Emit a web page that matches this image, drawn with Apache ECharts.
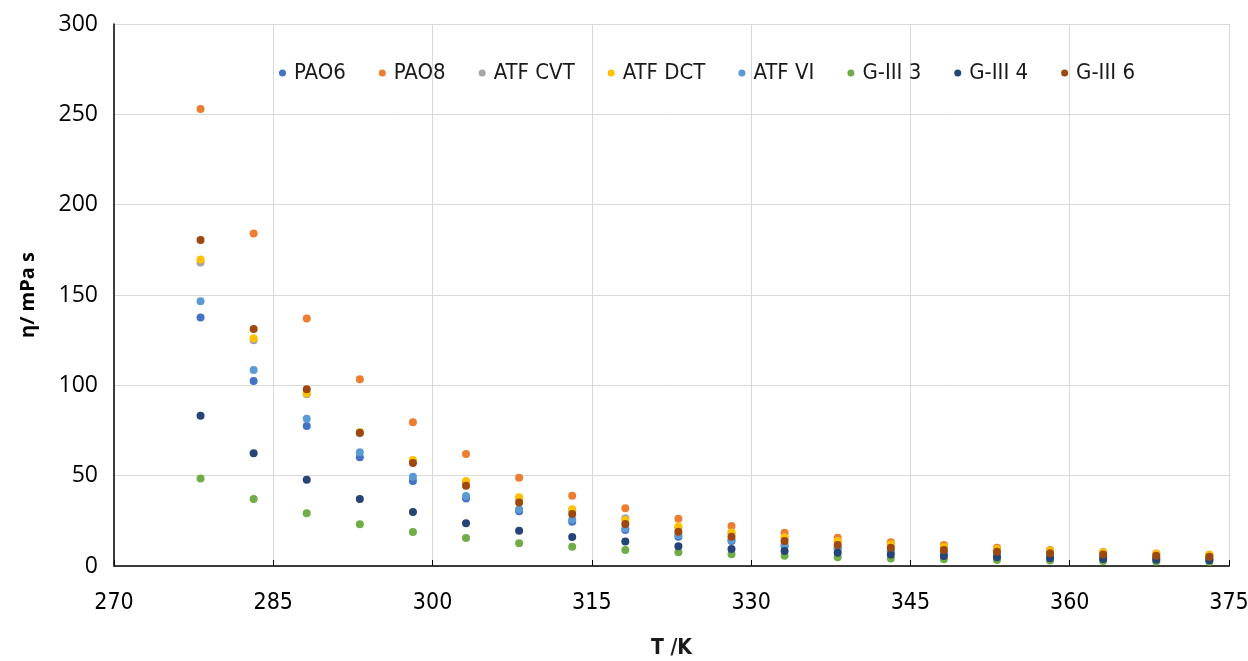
<!DOCTYPE html>
<html>
<head>
<meta charset="utf-8">
<script src="https://cdn.jsdelivr.net/npm/echarts@6/dist/echarts.min.js"></script>
<style>
  html, body { margin: 0; padding: 0; background: #fff; }
  #chart { width: 1248px; height: 661px; }
</style>
</head>
<body>
<div id="chart"></div>
<script>
const temps = [278.15, 283.15, 288.15, 293.15, 298.15, 303.15, 308.15, 313.15, 318.15, 323.15,
  328.15, 333.15, 338.15, 343.15, 348.15, 353.15, 358.15, 363.15, 368.15, 373.15];

const pao6 = [137.6, 102.4, 77.5, 60.2, 47.0, 37.3, 30.3, 24.5, 19.9, 16.2, 13.8, 11.0, 9.4, 8.0, 6.9, 6.0, 5.3, 4.7, 4.2, 3.8];
const pao8 = [253, 184, 137, 103.3, 79.5, 62.0, 48.9, 38.9, 31.9, 26.2, 22.1, 18.4, 15.7, 13.1, 11.6, 10.1, 8.9, 7.8, 6.9, 6.2];
const atfCvt = [168, 125, 95, 73.5, 58.0, 46.5, 37.5, 31.0, 26.4, 21.5, 18.2, 15.6, 13.5, 11.8, 10.4, 9.2, 8.2, 7.3, 6.6, 6.0];
const atfDct = [169.7, 126, 95.6, 74, 58.7, 47.0, 38.0, 31.4, 25.5, 21.8, 18.6, 15.9, 13.8, 12.0, 10.6, 9.4, 8.4, 7.5, 6.8, 6.2];
const atfVi = [146.5, 108.5, 81.5, 62.9, 49.4, 38.7, 31.4, 25.8, 20.8, 17.2, 14.4, 11.8, 10.0, 8.6, 7.4, 6.4, 5.6, 5.0, 4.5, 4.0];
const g3 = [48.5, 37.1, 29.2, 23.1, 18.8, 15.5, 12.6, 10.7, 8.9, 7.6, 6.5, 5.7, 4.8, 4.2, 3.7, 3.3, 3.0, 2.7, 2.5, 2.3];
const g4 = [83.2, 62.4, 47.8, 37.1, 29.9, 23.6, 19.5, 16.0, 13.5, 11.0, 9.4, 8.3, 7.3, 6.3, 5.5, 4.8, 4.3, 3.9, 3.5, 3.2];
const g6 = [180.4, 131.2, 97.8, 73.8, 57.0, 44.4, 35.2, 28.8, 23.2, 19.0, 16.2, 13.8, 11.6, 10.1, 8.9, 7.9, 7.0, 6.3, 5.7, 5.1];

const seriesDefs = [
  { name: 'PAO6', values: pao6, color: '#4472C4' },
  { name: 'PAO8', values: pao8, color: '#ED7D31' },
  { name: 'ATF CVT', values: atfCvt, color: '#A5A5A5' },
  { name: 'ATF DCT', values: atfDct, color: '#FFC000' },
  { name: 'ATF VI', values: atfVi, color: '#5B9BD5' },
  { name: 'G-III 3', values: g3, color: '#70AD47' },
  { name: 'G-III 4', values: g4, color: '#264478' },
  { name: 'G-III 6', values: g6, color: '#9E480E' }
];

const narrow = '"DejaVu Sans Condensed", Roboto, sans-serif';

const chart = echarts.init(document.getElementById('chart'));

chart.setOption({
  animation: false,
  backgroundColor: '#fff',
  color: seriesDefs.map(s => s.color),
  legend: {
    top: 57,
    left: 274,
    icon: 'circle',
    itemWidth: 7,
    itemHeight: 7,
    itemGap: 33,
    textStyle: {
      fontFamily: narrow,
      fontSize: 22,
      color: '#1a1a1a',
      padding: [0, 0, 0, 3]
    },
    data: seriesDefs.map(s => s.name)
  },
  grid: {
    left: 114,
    right: 19,
    top: 24,
    bottom: 95,
    outerBoundsMode: 'none'
  },
  xAxis: {
    type: 'value',
    min: 270,
    max: 375,
    interval: 15,
    name: 'T /K',
    nameLocation: 'middle',
    nameGap: 72,
    nameTextStyle: {
      fontFamily: narrow,
      fontWeight: 'bold',
      fontSize: 21,
      color: '#1a1a1a'
    },
    axisLine: { show: true, onZero: false, lineStyle: { color: '#000', width: 1.5 } },
    axisTick: { show: true, inside: true, length: 6, lineStyle: { color: '#000' } },
    axisLabel: {
      margin: 26,
      fontFamily: narrow,
      fontSize: 23,
      color: '#000'
    },
    splitLine: { show: true, lineStyle: { color: '#D9D9D9', width: 1 } }
  },
  yAxis: {
    type: 'value',
    min: 0,
    max: 300,
    interval: 50,
    name: 'η/ mPa s',
    nameLocation: 'middle',
    nameGap: 76,
    nameTextStyle: {
      fontFamily: 'Open Sans',
      fontWeight: 'bold',
      fontSize: 20,
      color: '#000'
    },
    axisLine: { show: true, lineStyle: { color: '#000', width: 1.5 } },
    axisTick: { show: false },
    axisLabel: {
      margin: 16,
      fontFamily: 'Open Sans',
      fontSize: 23,
      color: '#000'
    },
    splitLine: { show: true, lineStyle: { color: '#D9D9D9', width: 1 } }
  },
  series: seriesDefs.map(s => ({
    name: s.name,
    type: 'scatter',
    symbol: 'circle',
    symbolSize: 8,
    itemStyle: { color: s.color, opacity: 1 },
    data: temps.map((t, i) => [t, s.values[i]])
  }))
});

window.addEventListener('resize', function () {
  chart.resize();
});
</script>
</body>
</html>
